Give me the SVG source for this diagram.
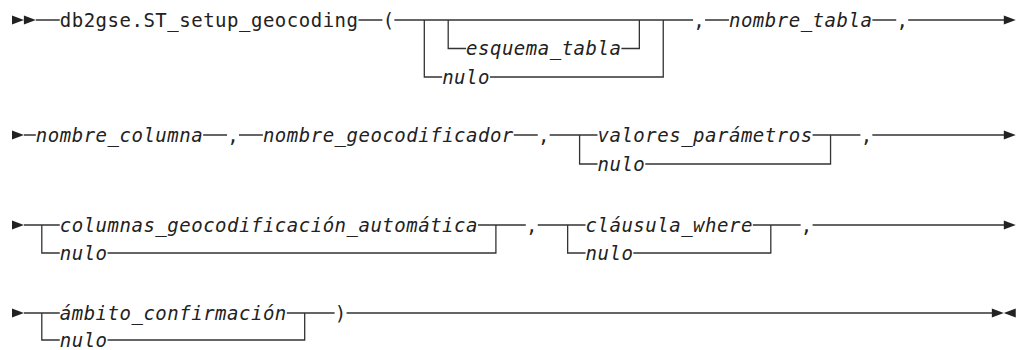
<svg xmlns="http://www.w3.org/2000/svg" width="1021" height="350" viewBox="0 0 1021 350">
<style>
.t{font-family:"DejaVu Sans Mono","Liberation Mono",monospace;font-size:19px;letter-spacing:0.51px;fill:#222}
.i{font-style:italic}
.c{text-anchor:middle;letter-spacing:0}
.l{fill:none;stroke:#333;stroke-width:1.3}
.a{fill:#222}
</style>
<rect width="1021" height="350" fill="#fff"/>
<g id="connectors">
<path class="a" d="M12,15.5 L23.9,20 L12,24.5 Z M23.9,15.5 L35.85,20 L23.9,24.5 Z"/>
<path class="l" d="M35.85,20 H59.75 M358.5,20 H382.4 M394.35,20 H693.1"/>
<path class="l" d="M424.3,20 V77 H442.15 M489.95,77 H663.25 V20"/>
<path class="l" d="M448.2,20 V48.5 H466.05 M621.4,48.5 H639.35 V20"/>
<path class="l" d="M705.05,20 H728.95 M872.35,20 H896.25 M908.2,20 H1004"/>
<path class="a" d="M1003.8,15.5 L1015.75,20 L1003.8,24.5 Z"/>
<path class="a" d="M12,130.5 L23.9,135 L12,139.5 Z"/>
<path class="l" d="M23.9,135 H35.85 M203.15,135 H227.05 M239,135 H262.9 M513.85,135 H537.75 M549.7,135 H597.5"/>
<path class="l" d="M579.6,135 V164 H597.5 M645.3,164 H830.55 V135"/>
<path class="l" d="M812.6,135 H860.4 M872.35,135 H1004"/>
<path class="a" d="M1003.8,130.5 L1015.75,135 L1003.8,139.5 Z"/>
<path class="a" d="M12,220.5 L23.9,225 L12,229.5 Z"/>
<path class="l" d="M23.9,225 H59.75 M41.8,225 V253 H59.75 M107.55,253 H495.9 V225"/>
<path class="l" d="M478,225 H525.8 M537.75,225 H585.55 M567.65,225 V253 H585.55 M633.35,253 H770.8 V225"/>
<path class="l" d="M752.85,225 H800.65 M812.6,225 H1004"/>
<path class="a" d="M1003.8,220.5 L1015.75,225 L1003.8,229.5 Z"/>
<path class="a" d="M12,308.5 L23.9,313 L12,317.5 Z"/>
<path class="l" d="M23.9,313 H59.75 M41.8,313 V340 H59.75 M107.55,340 H304.7 V313"/>
<path class="l" d="M286.8,313 H334.6 M346.55,313 H992"/>
<path class="a" d="M991.85,308.5 L1003.8,313 L991.85,317.5 Z M1015.75,308.5 L1003.8,313 L1015.75,317.5 Z"/>
</g>
<g id="n-func"><text class="t" x="59.75" y="26.5">db2gse.ST_setup_geocoding</text></g>
<g id="n-lparen"><text class="t c" x="388.4" y="26.5">(</text></g>
<g id="n-esquema"><text class="t i" x="466.05" y="55">esquema_tabla</text></g>
<g id="n-nulo1"><text class="t i" x="442.15" y="83.5">nulo</text></g>
<g id="n-comma1"><text class="t c" x="699.05" y="26.5">,</text></g>
<g id="n-tabla"><text class="t i" x="728.95" y="26.5">nombre_tabla</text></g>
<g id="n-comma2"><text class="t c" x="902.2" y="26.5">,</text></g>
<g id="n-columna"><text class="t i" x="35.85" y="141.5">nombre_columna</text></g>
<g id="n-comma3"><text class="t c" x="233" y="141.5">,</text></g>
<g id="n-geocod"><text class="t i" x="262.9" y="141.5">nombre_geocodificador</text></g>
<g id="n-comma4"><text class="t c" x="543.7" y="141.5">,</text></g>
<g id="n-valores"><text class="t i" x="597.5" y="141.5">valores_parámetros</text></g>
<g id="n-nulo2"><text class="t i" x="597.5" y="170.5">nulo</text></g>
<g id="n-comma5"><text class="t c" x="866.4" y="141.5">,</text></g>
<g id="n-columnas"><text class="t i" x="59.75" y="231.5">columnas_geocodificación_automática</text></g>
<g id="n-nulo3"><text class="t i" x="59.75" y="259.5">nulo</text></g>
<g id="n-comma6"><text class="t c" x="531.75" y="231.5">,</text></g>
<g id="n-clausula"><text class="t i" x="585.55" y="231.5">cláusula_where</text></g>
<g id="n-nulo4"><text class="t i" x="585.55" y="259.5">nulo</text></g>
<g id="n-comma7"><text class="t c" x="806.6" y="231.5">,</text></g>
<g id="n-ambito"><text class="t i" x="59.75" y="319.5">ámbito_confirmación</text></g>
<g id="n-nulo5"><text class="t i" x="59.75" y="346.5">nulo</text></g>
<g id="n-rparen"><text class="t c" x="340.55" y="319.5">)</text></g>
</svg>
